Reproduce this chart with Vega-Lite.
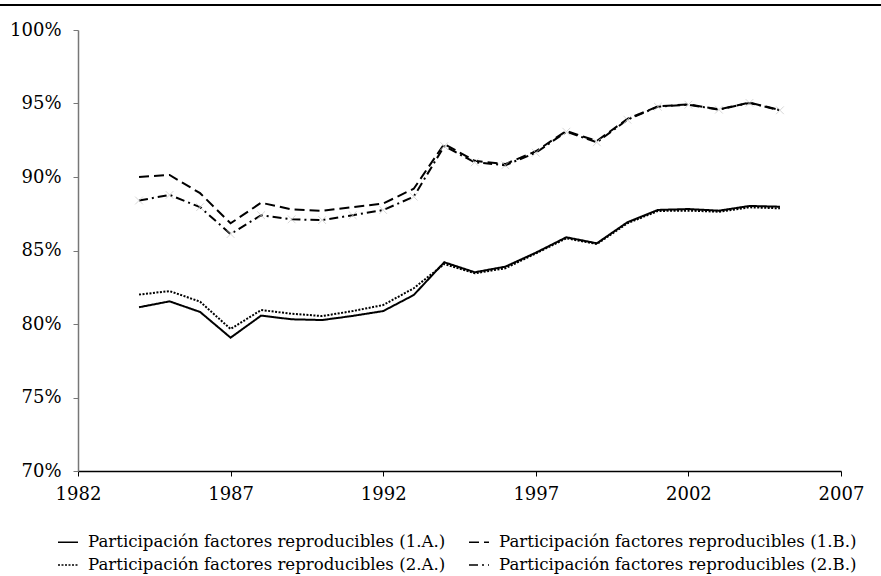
{
  "$schema": "https://vega.github.io/schema/vega-lite/v6.json",
  "width": 763,
  "height": 441,
  "autosize": {"type": "none"},
  "padding": {"left": 78, "top": 30, "right": 40, "bottom": 105},
  "background": "white",
  "config": {
    "view": {"stroke": null},
    "font": "DejaVu Serif",
    "axis": {"labelFont": "DejaVu Serif", "labelFontSize": 18, "labelColor": "black", "grid": false, "title": null},
    "legend": {"labelFont": "DejaVu Serif", "labelFontSize": 16.6, "labelColor": "black"}
  },
  "datasets": {
    "d": [
      {"year": 1984, "serie": "Participación factores reproducibles (1.A.)", "value": 81.14},
      {"year": 1985, "serie": "Participación factores reproducibles (1.A.)", "value": 81.54},
      {"year": 1986, "serie": "Participación factores reproducibles (1.A.)", "value": 80.82},
      {"year": 1987, "serie": "Participación factores reproducibles (1.A.)", "value": 79.07},
      {"year": 1988, "serie": "Participación factores reproducibles (1.A.)", "value": 80.57},
      {"year": 1989, "serie": "Participación factores reproducibles (1.A.)", "value": 80.32},
      {"year": 1990, "serie": "Participación factores reproducibles (1.A.)", "value": 80.27},
      {"year": 1991, "serie": "Participación factores reproducibles (1.A.)", "value": 80.55},
      {"year": 1992, "serie": "Participación factores reproducibles (1.A.)", "value": 80.88},
      {"year": 1993, "serie": "Participación factores reproducibles (1.A.)", "value": 81.97},
      {"year": 1994, "serie": "Participación factores reproducibles (1.A.)", "value": 84.2},
      {"year": 1995, "serie": "Participación factores reproducibles (1.A.)", "value": 83.52},
      {"year": 1996, "serie": "Participación factores reproducibles (1.A.)", "value": 83.9},
      {"year": 1997, "serie": "Participación factores reproducibles (1.A.)", "value": 84.85},
      {"year": 1998, "serie": "Participación factores reproducibles (1.A.)", "value": 85.9},
      {"year": 1999, "serie": "Participación factores reproducibles (1.A.)", "value": 85.49},
      {"year": 2000, "serie": "Participación factores reproducibles (1.A.)", "value": 86.92},
      {"year": 2001, "serie": "Participación factores reproducibles (1.A.)", "value": 87.76},
      {"year": 2002, "serie": "Participación factores reproducibles (1.A.)", "value": 87.82},
      {"year": 2003, "serie": "Participación factores reproducibles (1.A.)", "value": 87.71},
      {"year": 2004, "serie": "Participación factores reproducibles (1.A.)", "value": 88.03},
      {"year": 2005, "serie": "Participación factores reproducibles (1.A.)", "value": 87.98},
      {"year": 1984, "serie": "Participación factores reproducibles (1.B.)", "value": 90.0},
      {"year": 1985, "serie": "Participación factores reproducibles (1.B.)", "value": 90.14},
      {"year": 1986, "serie": "Participación factores reproducibles (1.B.)", "value": 88.9},
      {"year": 1987, "serie": "Participación factores reproducibles (1.B.)", "value": 86.85},
      {"year": 1988, "serie": "Participación factores reproducibles (1.B.)", "value": 88.25},
      {"year": 1989, "serie": "Participación factores reproducibles (1.B.)", "value": 87.8},
      {"year": 1990, "serie": "Participación factores reproducibles (1.B.)", "value": 87.7},
      {"year": 1991, "serie": "Participación factores reproducibles (1.B.)", "value": 87.95},
      {"year": 1992, "serie": "Participación factores reproducibles (1.B.)", "value": 88.2},
      {"year": 1993, "serie": "Participación factores reproducibles (1.B.)", "value": 89.2},
      {"year": 1994, "serie": "Participación factores reproducibles (1.B.)", "value": 92.25},
      {"year": 1995, "serie": "Participación factores reproducibles (1.B.)", "value": 91.1},
      {"year": 1996, "serie": "Participación factores reproducibles (1.B.)", "value": 90.88},
      {"year": 1997, "serie": "Participación factores reproducibles (1.B.)", "value": 91.75},
      {"year": 1998, "serie": "Participación factores reproducibles (1.B.)", "value": 93.13},
      {"year": 1999, "serie": "Participación factores reproducibles (1.B.)", "value": 92.45},
      {"year": 2000, "serie": "Participación factores reproducibles (1.B.)", "value": 93.95},
      {"year": 2001, "serie": "Participación factores reproducibles (1.B.)", "value": 94.8},
      {"year": 2002, "serie": "Participación factores reproducibles (1.B.)", "value": 94.94},
      {"year": 2003, "serie": "Participación factores reproducibles (1.B.)", "value": 94.6},
      {"year": 2004, "serie": "Participación factores reproducibles (1.B.)", "value": 95.06},
      {"year": 2005, "serie": "Participación factores reproducibles (1.B.)", "value": 94.56},
      {"year": 1984, "serie": "Participación factores reproducibles (2.A.)", "value": 82.0},
      {"year": 1985, "serie": "Participación factores reproducibles (2.A.)", "value": 82.24},
      {"year": 1986, "serie": "Participación factores reproducibles (2.A.)", "value": 81.52},
      {"year": 1987, "serie": "Participación factores reproducibles (2.A.)", "value": 79.66},
      {"year": 1988, "serie": "Participación factores reproducibles (2.A.)", "value": 80.95},
      {"year": 1989, "serie": "Participación factores reproducibles (2.A.)", "value": 80.7},
      {"year": 1990, "serie": "Participación factores reproducibles (2.A.)", "value": 80.54},
      {"year": 1991, "serie": "Participación factores reproducibles (2.A.)", "value": 80.88},
      {"year": 1992, "serie": "Participación factores reproducibles (2.A.)", "value": 81.29},
      {"year": 1993, "serie": "Participación factores reproducibles (2.A.)", "value": 82.43},
      {"year": 1994, "serie": "Participación factores reproducibles (2.A.)", "value": 84.08},
      {"year": 1995, "serie": "Participación factores reproducibles (2.A.)", "value": 83.45},
      {"year": 1996, "serie": "Participación factores reproducibles (2.A.)", "value": 83.79},
      {"year": 1997, "serie": "Participación factores reproducibles (2.A.)", "value": 84.8},
      {"year": 1998, "serie": "Participación factores reproducibles (2.A.)", "value": 85.83},
      {"year": 1999, "serie": "Participación factores reproducibles (2.A.)", "value": 85.44},
      {"year": 2000, "serie": "Participación factores reproducibles (2.A.)", "value": 86.85},
      {"year": 2001, "serie": "Participación factores reproducibles (2.A.)", "value": 87.69},
      {"year": 2002, "serie": "Participación factores reproducibles (2.A.)", "value": 87.71},
      {"year": 2003, "serie": "Participación factores reproducibles (2.A.)", "value": 87.64},
      {"year": 2004, "serie": "Participación factores reproducibles (2.A.)", "value": 87.94},
      {"year": 2005, "serie": "Participación factores reproducibles (2.A.)", "value": 87.87},
      {"year": 1984, "serie": "Participación factores reproducibles (2.B.)", "value": 88.4},
      {"year": 1985, "serie": "Participación factores reproducibles (2.B.)", "value": 88.78},
      {"year": 1986, "serie": "Participación factores reproducibles (2.B.)", "value": 87.95},
      {"year": 1987, "serie": "Participación factores reproducibles (2.B.)", "value": 86.12},
      {"year": 1988, "serie": "Participación factores reproducibles (2.B.)", "value": 87.4},
      {"year": 1989, "serie": "Participación factores reproducibles (2.B.)", "value": 87.12},
      {"year": 1990, "serie": "Participación factores reproducibles (2.B.)", "value": 87.07},
      {"year": 1991, "serie": "Participación factores reproducibles (2.B.)", "value": 87.4},
      {"year": 1992, "serie": "Participación factores reproducibles (2.B.)", "value": 87.75},
      {"year": 1993, "serie": "Participación factores reproducibles (2.B.)", "value": 88.66},
      {"year": 1994, "serie": "Participación factores reproducibles (2.B.)", "value": 92.1},
      {"year": 1995, "serie": "Participación factores reproducibles (2.B.)", "value": 91.0},
      {"year": 1996, "serie": "Participación factores reproducibles (2.B.)", "value": 90.8},
      {"year": 1997, "serie": "Participación factores reproducibles (2.B.)", "value": 91.65},
      {"year": 1998, "serie": "Participación factores reproducibles (2.B.)", "value": 93.08},
      {"year": 1999, "serie": "Participación factores reproducibles (2.B.)", "value": 92.36},
      {"year": 2000, "serie": "Participación factores reproducibles (2.B.)", "value": 93.9},
      {"year": 2001, "serie": "Participación factores reproducibles (2.B.)", "value": 94.78},
      {"year": 2002, "serie": "Participación factores reproducibles (2.B.)", "value": 94.92},
      {"year": 2003, "serie": "Participación factores reproducibles (2.B.)", "value": 94.58},
      {"year": 2004, "serie": "Participación factores reproducibles (2.B.)", "value": 95.04},
      {"year": 2005, "serie": "Participación factores reproducibles (2.B.)", "value": 94.54}
    ],
    "frame": [{"x1": 1979.44, "x2": 2008.4, "y": 101.7}]
  },
  "layer": [
    {
      "data": {"name": "d"},
      "mark": {"type": "line", "stroke": "black", "strokeWidth": 2},
      "encoding": {
        "x": {
          "field": "year", "type": "quantitative",
          "scale": {"domain": [1982, 2007], "nice": false, "zero": false},
          "axis": {"values": [1982, 1987, 1992, 1997, 2002, 2007], "format": "d", "domainColor": "black", "domainWidth": 1.5, "tickColor": "black", "tickSize": 5, "labelPadding": 9, "labelFlush": false}
        },
        "y": {
          "field": "value", "type": "quantitative",
          "scale": {"domain": [70, 100], "nice": false, "zero": false},
          "axis": {"values": [70, 75, 80, 85, 90, 95, 100], "labelExpr": "datum.value + '%'", "domainColor": "#777777", "domainWidth": 1.5, "tickColor": "#777777", "tickSize": 5, "labelPadding": 12}
        },
        "strokeDash": {
          "field": "serie", "type": "nominal",
          "scale": {
            "domain": ["Participación factores reproducibles (1.A.)", "Participación factores reproducibles (1.B.)", "Participación factores reproducibles (2.A.)", "Participación factores reproducibles (2.B.)"],
            "range": [[1, 0], [10, 5], [2, 1.5], [9, 4, 2, 4]]
          },
          "legend": {
            "title": null, "orient": "none", "legendX": -21, "legendY": 501, "columns": 2, "direction": "horizontal",
            "symbolType": "stroke", "symbolSize": 400, "symbolStrokeColor": "black", "symbolStrokeWidth": 1.5,
            "labelOffset": 9, "columnPadding": 20, "rowPadding": 3, "labelLimit": 0, "padding": 0
          }
        }
      }
    },
    {
      "data": {"name": "d"},
      "transform": [{"filter": "datum.serie == 'Participación factores reproducibles (2.B.)'"}],
      "mark": {"type": "point", "shape": "M-1,-1L1,1M1,-1L-1,1", "stroke": "#c8c8c8", "strokeWidth": 1, "filled": false, "size": 60},
      "encoding": {
        "x": {"field": "year", "type": "quantitative"},
        "y": {"field": "value", "type": "quantitative"}
      }
    },
    {
      "data": {"name": "frame"},
      "mark": {"type": "rule", "stroke": "black", "strokeWidth": 2, "clip": false},
      "encoding": {
        "x": {"field": "x1", "type": "quantitative"},
        "x2": {"field": "x2"},
        "y": {"field": "y", "type": "quantitative"}
      }
    }
  ]
}
